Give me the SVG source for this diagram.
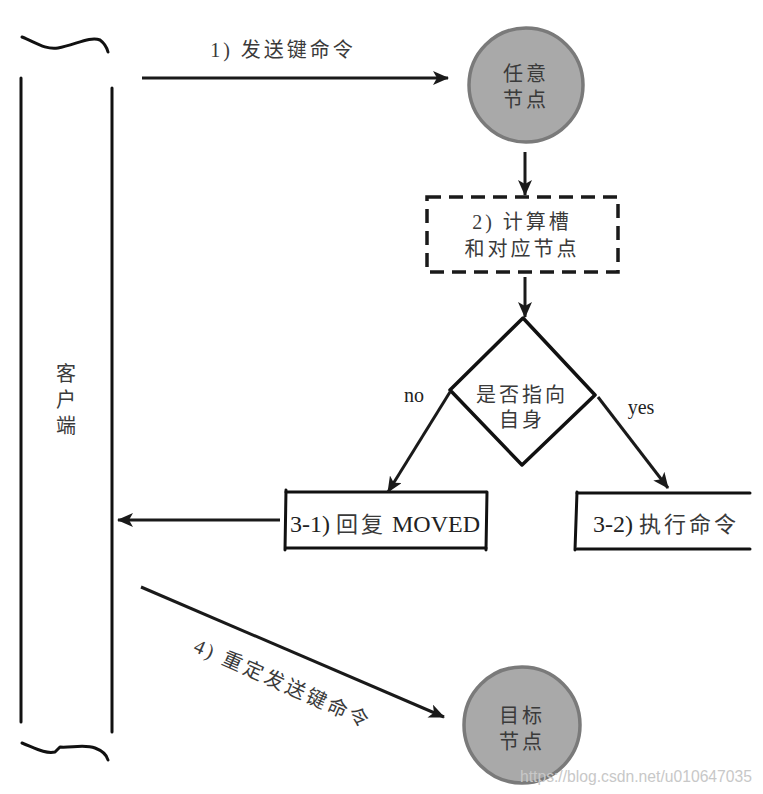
<svg xmlns="http://www.w3.org/2000/svg" width="763" height="794" viewBox="0 0 763 794">
<style>
.ln{fill:none;stroke:#111;stroke-width:3;stroke-linecap:round;stroke-linejoin:round}
.cn{fill:none;stroke:#1a1a1a;stroke-width:3}
.cjk{font-family:"Liberation Serif","Noto Sans CJK SC",serif;font-size:20px;fill:#3a3a3a;letter-spacing:3px}
.lat{font-family:"Liberation Serif",serif;font-size:20px;fill:#222}
.big{font-size:24px}
.bigc{font-size:22px}
.node{fill:#a9a9a9;stroke:#7a7a7a;stroke-width:3.5}
</style>
<defs>
<marker id="ah" markerUnits="userSpaceOnUse" markerWidth="16" markerHeight="14" refX="15" refY="7" orient="auto">
<path d="M0,0 L16,7 L0,14 L4,7 z" fill="#1a1a1a"/>
</marker>
</defs>
<rect width="763" height="794" fill="#fff"/>

<g id="client">
<path class="ln" d="M22,37 C35,42 45,50 58,48 C75,45 90,36 100,40 C104,43 107,48 108,52" stroke-width="3.5"/>
<path class="ln" d="M21,78 L21,722"/>
<path class="ln" d="M112,88 L112,732"/>
<path class="ln" d="M22,743 C35,748 45,754 55,752 L60,747 C70,748 85,744 95,748 C103,751 107,756 108,760" stroke-width="3.5"/>
<text class="cjk" x="66" y="381" text-anchor="middle" style="letter-spacing:0">客</text>
<text class="cjk" x="66" y="407" text-anchor="middle" style="letter-spacing:0">户</text>
<text class="cjk" x="66" y="433" text-anchor="middle" style="letter-spacing:0">端</text>
</g>

<g id="node-any">
<circle class="node" cx="526" cy="85" r="57"/>
<text class="cjk" x="526" y="81" text-anchor="middle">任意</text>
<text class="cjk" x="526" y="107" text-anchor="middle">节点</text>
</g>

<g id="node-calc">
<rect x="427" y="197" width="191" height="75" fill="none" stroke="#1a1a1a" stroke-width="3.5" stroke-dasharray="14 8"/>
<text class="cjk" x="522" y="229" text-anchor="middle">2) 计算槽</text>
<text class="cjk" x="522" y="256" text-anchor="middle">和对应节点</text>
</g>

<g id="node-decide">
<polygon points="523,318 595,395 522,465 450,390" fill="#fff" stroke="#111" stroke-width="3.5" stroke-linejoin="round"/>
<text class="cjk" x="522" y="402" text-anchor="middle">是否指向</text>
<text class="cjk" x="522" y="427" text-anchor="middle">自身</text>
</g>

<g id="node-moved">
<path class="ln" d="M286,492 L486,492 M286,548 L486,548"/>
<path class="ln" d="M286,490 L285,550 M487,492 L486,550" stroke-width="3.5"/>
<text class="lat big" x="385" y="532" text-anchor="middle"><tspan>3-1) </tspan><tspan class="cjk bigc">回复</tspan><tspan> MOVED</tspan></text>
</g>

<g id="node-exec">
<path class="ln" d="M577,493 L750,493 M577,549 L750,549"/>
<path class="ln" d="M577,492 L575,550" stroke-width="3.5"/>
<text class="lat big" x="666" y="532" text-anchor="middle"><tspan>3-2) </tspan><tspan class="cjk bigc">执行命令</tspan></text>
</g>

<g id="node-target">
<circle class="node" cx="522" cy="725" r="58"/>
<text class="cjk" x="522" y="723" text-anchor="middle">目标</text>
<text class="cjk" x="522" y="749" text-anchor="middle">节点</text>
</g>

<g id="connectors">
<line class="cn" x1="142" y1="78" x2="448" y2="78" marker-end="url(#ah)"/>
<line class="cn" x1="525" y1="152" x2="525" y2="195" marker-end="url(#ah)"/>
<line class="cn" x1="525" y1="277" x2="525" y2="317" marker-end="url(#ah)"/>
<line class="cn" x1="450" y1="392" x2="388" y2="492" marker-end="url(#ah)"/>
<line class="cn" x1="598" y1="397" x2="668" y2="488" marker-end="url(#ah)"/>
<line class="cn" x1="280" y1="520" x2="118" y2="520" marker-end="url(#ah)"/>
<line class="cn" x1="141" y1="587" x2="444" y2="717" marker-end="url(#ah)"/>
<text class="cjk" x="283" y="57" text-anchor="middle">1) 发送键命令</text>
<text class="lat" x="414" y="402" text-anchor="middle">no</text>
<text class="lat" x="641" y="414" text-anchor="middle">yes</text>
<text class="cjk" x="0" y="0" text-anchor="middle" transform="translate(280,690) rotate(24)">4) 重定发送键命令</text>
</g>

<text x="752" y="782" text-anchor="end" font-family="Liberation Sans,sans-serif" font-size="16" fill="#c8c8c8" textLength="232" lengthAdjust="spacingAndGlyphs">https://blog.csdn.net/u010647035</text>
</svg>
